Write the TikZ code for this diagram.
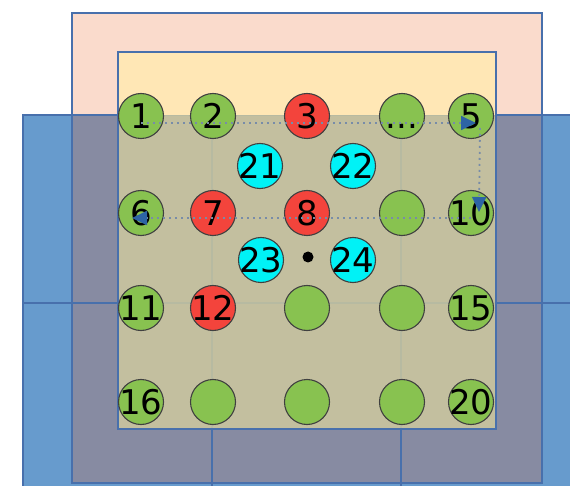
\documentclass[tikz,border=0pt]{standalone}
\usepackage{fontspec}
\setmainfont{DejaVu Sans}
\definecolor{cellblue}{RGB}{103,155,205}
\definecolor{edgeblue}{RGB}{72,112,172}
\definecolor{pinkarea}{RGB}{250,219,204}
\definecolor{yellowarea}{RGB}{255,231,181}
\definecolor{overlap}{RGB}{135,139,162}
\definecolor{tanarea}{RGB}{211,205,159}
\definecolor{uegreen}{RGB}{136,194,80}
\definecolor{uered}{RGB}{243,68,60}
\definecolor{uecyan}{RGB}{0,242,246}
\definecolor{scangray}{RGB}{120,140,168}
\definecolor{scanblue}{RGB}{45,100,165}
\usetikzlibrary{arrows.meta}
\newcommand{\ueno}[1]{\makebox[0pt]{#1}}

\begin{document}
\begin{tikzpicture}[x=1pt, y=-1pt,
      area/.style={draw=edgeblue, line width=1.2pt},
      ue/.style={circle, draw=black!75, line width=1.1pt, minimum size=45pt,
        inner sep=0pt, font=\fontsize{34}{34}\selectfont},
      idle/.style={ue, fill=uegreen},
      served/.style={ue, fill=uered},
      relay/.style={ue, fill=uecyan},
      scan/.style={draw=scangray, line width=1.8pt, dash pattern=on 1.8pt off 4.2pt,
        -{Triangle[length=15pt, width=14pt, color=scanblue, fill=scanblue]}},
    ]
    \useasboundingbox (0,0) rectangle (570,486);

    % coverage areas
    \fill[cellblue] (23,115) rectangle (575,490);
    \fill[pinkarea] (72,13) rectangle (542,115);
    \fill[overlap] (72,115) rectangle (542,483);
    \draw[area] (212,115) -- (212,490) (401,115) -- (401,490) (23,303) -- (575,303);
    \draw[area] (23,490) -- (23,115) -- (575,115);
    \fill[yellowarea] (118,52) rectangle (496,115);
    \fill[tanarea, fill opacity=0.8] (118,115) rectangle (496,429);
    \draw[area] (72,13) rectangle (542,483);
    \draw[area] (118,52) rectangle (496,429);

    \node[idle] (c1) at (141,116) {\ueno{1}};
    \node[idle] (c2) at (213,116) {\ueno{2}};
    \node[served] (c3) at (307,116) {\ueno{3}};
    \node[idle] (c4) at (402,116) {\vphantom{1}\ueno{...}};
    \node[idle] (c5) at (471,116) {\ueno{5}};
    \node[idle] (c6) at (141,213) {\ueno{6}};
    \node[served] (c7) at (213,213) {\ueno{7}};
    \node[served] (c8) at (307,213) {\ueno{8}};
    \node[idle] (c9) at (402,213) {};
    \node[idle] (c10) at (471,213) {\ueno{10}};
    \node[idle] (c11) at (141,308) {\ueno{11}};
    \node[served] (c12) at (213,308) {\ueno{12}};
    \node[idle] (c13) at (307,308) {};
    \node[idle] (c14) at (402,308) {};
    \node[idle] (c15) at (471,308) {\ueno{15}};
    \node[idle] (c16) at (141,402) {\ueno{16}};
    \node[idle] (c17) at (213,402) {};
    \node[idle] (c18) at (307,402) {};
    \node[idle] (c19) at (402,402) {};
    \node[idle] (c20) at (471,402) {\ueno{20}};

    \node[relay] (r21) at (260,166) {\ueno{21}};
    \node[relay] (r22) at (353,166) {\ueno{22}};
    \node[relay] (r23) at (261,260) {\ueno{23}};
    \node[relay] (r24) at (353,260) {\ueno{24}};
    \node[circle, fill=black, minimum size=11pt, inner sep=0pt] (bs) at (308,257) {};

    \draw[scan] ([yshift=-7pt]c1.center) -- ([xshift=5pt, yshift=-7pt]c5.center);
    \draw[scan] ([xshift=9pt, yshift=-12pt]c5.center) -- ([xshift=8pt, yshift=1pt]c10.center);
    \draw[scan] ([yshift=-5pt]c10.center) -- ([xshift=-9pt, yshift=-5pt]c6.center);
  \end{tikzpicture}
\end{document}
